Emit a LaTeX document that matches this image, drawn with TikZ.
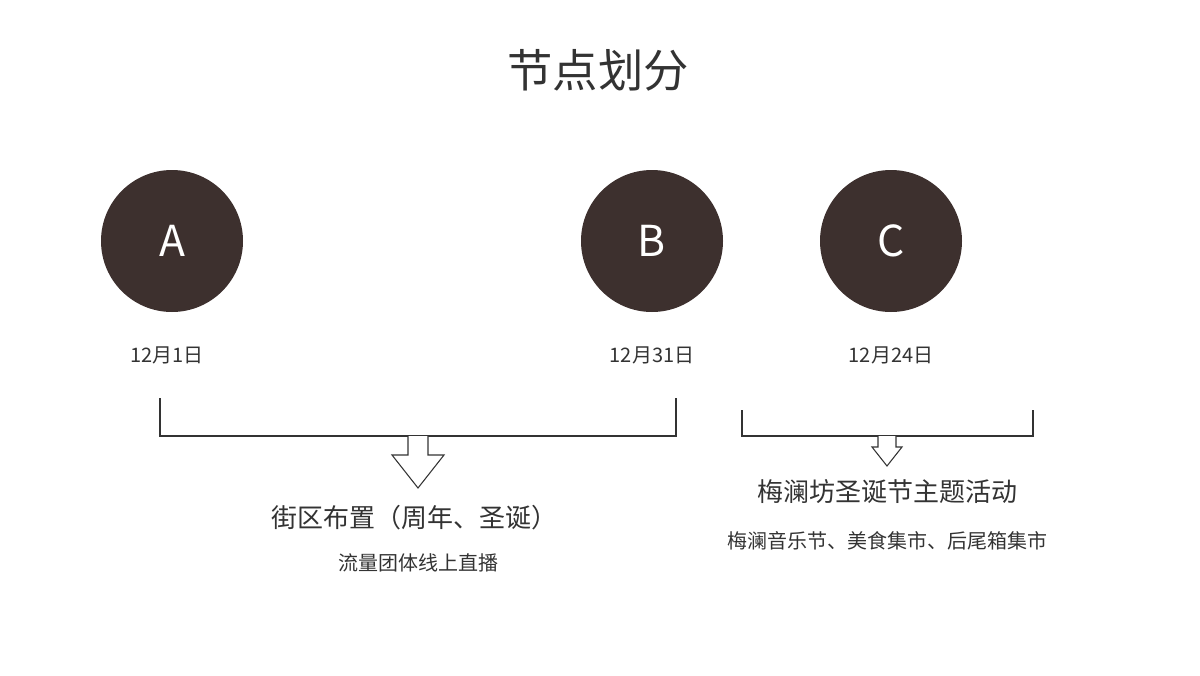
\documentclass[tikz,border=0pt]{standalone}
\usepackage{fontspec}
\setmainfont{Noto Sans CJK SC}
\begin{document}
\begin{tikzpicture}[x=0.75pt,y=-0.75pt]
\definecolor{dk}{HTML}{3D302E}
\definecolor{tx}{HTML}{333333}
\tikzset{disc/.style={circle,fill=dk,minimum size=142*0.75pt,inner sep=0pt,text=white,font=\fontsize{32}{36}\selectfont},
date/.style={text=tx,font=\fontsize{15}{18}\selectfont},
ln/.style={draw=tx,line width=0.8pt},
harrow/.style={draw=tx,fill=white,line width=0.8pt}}
\useasboundingbox (0,0) rectangle (1200,675);
\node[text=tx,font=\fontsize{34}{40}\selectfont] (title) at (598,70) {节点划分};
\node[disc] (A) at (172,241) {A};
\node[disc] (B) at (652,241) {B};
\node[disc] (C) at (891,241) {C};
\node[date] (dA) at (167,355) {12月1日};
\node[date] (dB) at (652,355) {12月31日};
\node[date] (dC) at (891,355) {12月24日};
\coordinate (b1l) at (160,398); \coordinate (b1r) at (676,398);
\draw[ln] (b1l) -- (160,436) -- (676,436) -- (b1r);
\draw[harrow] (408,436) -- (408,455) -- (392,455) -- (418,488) -- (444,455) -- (428,455) -- (428,436);
\coordinate (b2l) at (742,410); \coordinate (b2r) at (1033,410);
\draw[ln] (b2l) -- (742,436) -- (1033,436) -- (b2r);
\draw[harrow] (878,436) -- (878,447) -- (872,447) -- (887,466) -- (902,447) -- (896,447) -- (896,436);
\node[text=tx,font=\fontsize{19.5}{24}\selectfont] (t1) at (414,518) {街区布置（周年、圣诞）};
\node[text=tx,font=\fontsize{15}{18}\selectfont] (s1) at (418,563) {流量团体线上直播};
\node[text=tx,font=\fontsize{19.5}{24}\selectfont] (t2) at (887,492) {梅澜坊圣诞节主题活动};
\node[text=tx,font=\fontsize{15}{18}\selectfont] (s2) at (887,541) {梅澜音乐节、美食集市、后尾箱集市};
\end{tikzpicture}
\end{document}
